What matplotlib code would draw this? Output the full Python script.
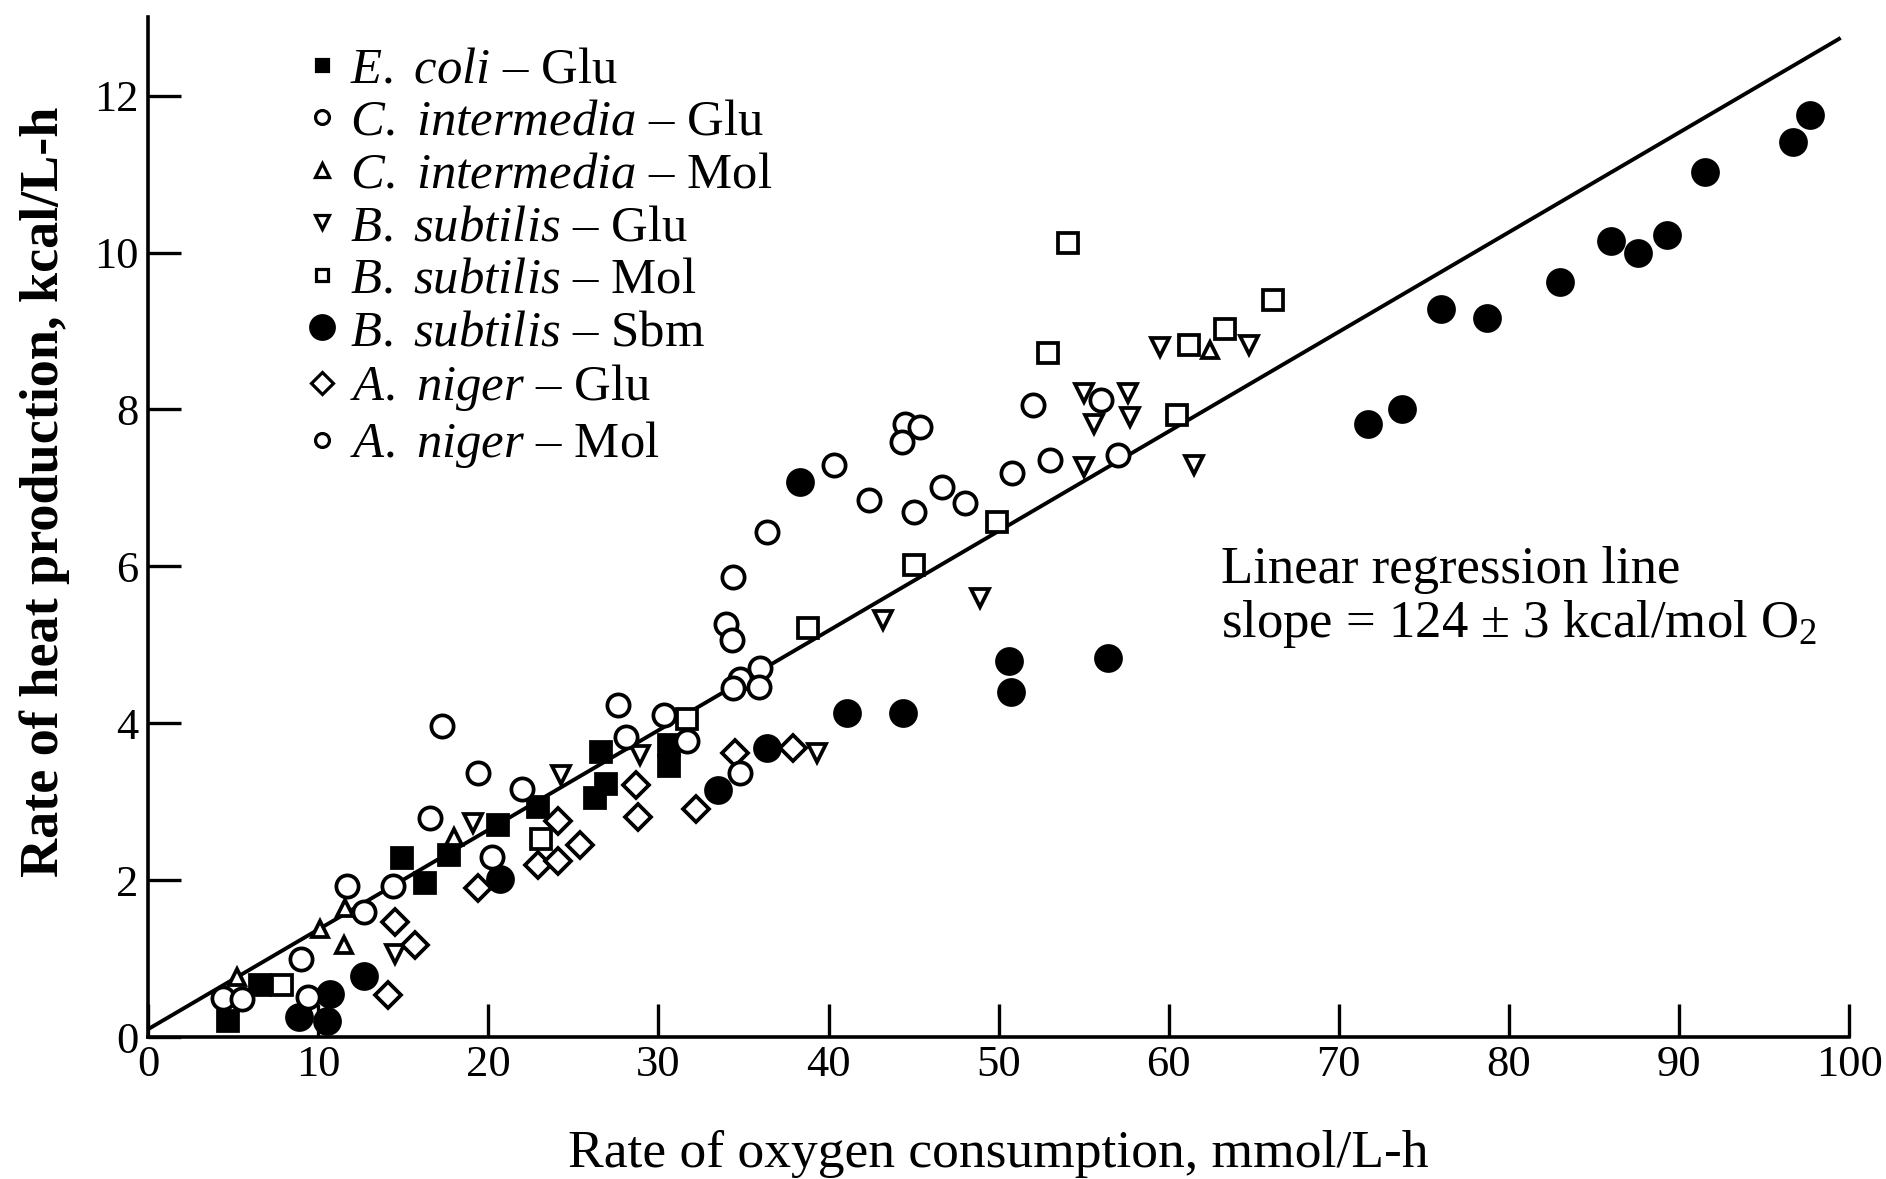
import numpy as np
import matplotlib
matplotlib.use("Agg")
import matplotlib.pyplot as plt
from matplotlib.lines import Line2D

plt.rcParams["font.family"] = ["Liberation Serif", "DejaVu Serif"]
plt.rcParams["mathtext.fontset"] = "custom"
plt.rcParams["mathtext.rm"] = "Liberation Serif"
plt.rcParams["mathtext.it"] = "Liberation Serif:italic"

# data (x = O2 uptake mmol/L-h, y = heat kcal/L-h)
ecoli_glu_x = [4.7, 6.6, 14.9, 16.3, 17.7, 20.6, 22.9, 26.3, 26.9, 26.6, 30.6, 30.6]
ecoli_glu_y = [0.21, 0.66, 2.28, 1.96, 2.32, 2.70, 2.93, 3.05, 3.22, 3.63, 3.45, 3.72]

cint_glu_x = [34.0, 34.3, 34.4, 34.8, 36.0, 35.9, 34.4, 36.4, 40.3, 42.4, 44.5, 45.4,
              44.3, 45.0, 46.7, 48.0, 50.8, 52.0, 53.0, 56.0, 57.0]
cint_glu_y = [5.27, 5.06, 5.86, 4.57, 4.71, 4.46, 4.45, 6.44, 7.29, 6.84, 7.82, 7.78,
              7.59, 6.69, 7.01, 6.81, 7.19, 8.06, 7.36, 8.12, 7.42]

cint_mol_x = [5.2, 10.1, 11.6, 11.5, 18.0, 62.4]
cint_mol_y = [0.77, 1.38, 1.64, 1.17, 2.55, 8.76]

bsub_glu_x = [14.5, 19.1, 24.3, 28.9, 39.3, 43.2, 48.9, 55.0, 55.0, 55.6, 57.6, 57.7,
              59.5, 61.5, 64.7]
bsub_glu_y = [1.06, 2.73, 3.34, 3.59, 3.62, 5.32, 5.60, 7.27, 8.21, 7.82, 8.21, 7.90,
              8.80, 7.29, 8.82]

bsub_mol_x = [7.9, 23.1, 31.7, 38.8, 45.0, 49.9, 52.9, 54.1, 60.5, 61.2, 63.3, 66.1]
bsub_mol_y = [0.66, 2.53, 4.06, 5.21, 6.02, 6.56, 8.72, 10.12, 7.93, 8.82, 9.03, 9.40]

bsub_sbm_x = [8.9, 10.7, 10.5, 12.7, 20.7, 33.5, 36.4, 38.3, 41.1, 44.4, 50.6, 50.7,
              56.4, 71.7, 73.7, 76.0, 78.7, 83.0, 86.0, 87.6, 89.3, 91.5, 96.7, 97.7]
bsub_sbm_y = [0.26, 0.55, 0.21, 0.78, 2.02, 3.15, 3.68, 7.07, 4.13, 4.13, 4.79, 4.40,
              4.83, 7.82, 8.00, 9.28, 9.16, 9.63, 10.15, 10.00, 10.23, 11.03, 11.41, 11.75]

aniger_glu_x = [14.1, 14.5, 15.7, 19.4, 22.9, 24.1, 24.1, 25.4, 28.7, 28.8, 32.2, 34.5, 37.9]
aniger_glu_y = [0.54, 1.47, 1.17, 1.90, 2.19, 2.24, 2.76, 2.45, 3.21, 2.81, 2.91, 3.62, 3.68]

aniger_mol_x = [4.4, 5.5, 9.0, 9.4, 11.7, 12.7, 14.4, 16.6, 17.3, 19.4, 20.2, 22.0,
                27.6, 28.1, 30.3, 31.7, 34.8]
aniger_mol_y = [0.50, 0.49, 1.00, 0.51, 1.93, 1.60, 1.93, 2.79, 3.97, 3.37, 2.30, 3.16,
                4.23, 3.82, 4.10, 3.78, 3.36]

# regression line as drawn
reg_slope = 0.127
reg_intercept = 0.1
reg_xmax = 99.4

fig = plt.figure(figsize=(18.86, 11.79), dpi=100)
ax = fig.add_axes([0.0785, 0.1204, 0.902, 0.865])

mew = 2.7
series = [
    (ecoli_glu_x, ecoli_glu_y, "s", "black", 15, 9, r"$\mathit{E.\ coli}$ – Glu"),
    (cint_glu_x, cint_glu_y, "o", "white", 16, 10, r"$\mathit{C.\ intermedia}$ – Glu"),
    (cint_mol_x, cint_mol_y, "^", "white", 12, 10.5, r"$\mathit{C.\ intermedia}$ – Mol"),
    (bsub_glu_x, bsub_glu_y, "v", "white", 13, 10, r"$\mathit{B.\ subtilis}$ – Glu"),
    (bsub_mol_x, bsub_mol_y, "s", "white", 14, 8.5, r"$\mathit{B.\ subtilis}$ – Mol"),
    (bsub_sbm_x, bsub_sbm_y, "o", "black", 18, 17, r"$\mathit{B.\ subtilis}$ – Sbm"),
    (aniger_glu_x, aniger_glu_y, "D", "white", 13, 11.5, r"$\mathit{A.\ niger}$ – Glu"),
    (aniger_mol_x, aniger_mol_y, "o", "white", 16, 10, r"$\mathit{A.\ niger}$ – Mol"),
]

xs = np.linspace(0, reg_xmax, 2)
ax.plot(xs, reg_slope * xs + reg_intercept, color="black", lw=2.8, zorder=2)

handles = []
for x, y, m, fc, ms, lms, lab in series:
    ax.plot(x, y, linestyle="none", marker=m, markersize=ms, markerfacecolor=fc,
            markeredgecolor="black", markeredgewidth=mew, zorder=3, clip_on=False)
    handles.append(Line2D([], [], linestyle="none", marker=m, markersize=lms,
                          markerfacecolor=fc, markeredgecolor="black",
                          markeredgewidth=2.3))

ax.legend(handles, [s[-1] for s in series], loc="upper left",
          bbox_to_anchor=(0.0952, 0.971), frameon=False, fontsize=36.5,
          borderpad=0, borderaxespad=0, handlelength=0.48, handletextpad=0.3,
          labelspacing=0.12)

ax.text(63.1, 5.79, "Linear regression line", fontsize=38, ha="left", va="baseline")
ax.text(63.1, 5.10, r"slope = 124 ± 3 kcal/mol O$_2$", fontsize=38, ha="left", va="baseline")

ax.set_xlim(0, 100)
ax.set_ylim(0, 13)
ax.set_xticks(np.arange(0, 101, 10))
ax.set_yticks(np.arange(0, 13, 2))
ax.spines["top"].set_visible(False)
ax.spines["right"].set_visible(False)
for s in ("left", "bottom"):
    ax.spines[s].set_linewidth(2.6)
ax.tick_params(direction="in", length=24, width=2.4, labelsize=32)
ax.tick_params(axis="x", pad=6)
ax.tick_params(axis="y", pad=7)

ax.set_xlabel("Rate of oxygen consumption, mmol/L-h", fontsize=38.5)
ax.set_ylabel("Rate of heat production, kcal/L-h", fontsize=39, fontweight="bold")
ax.xaxis.set_label_coords(0.5, -0.091)
ax.yaxis.set_label_coords(-0.046, 0.535)

fig.savefig("out.png", dpi=100)
